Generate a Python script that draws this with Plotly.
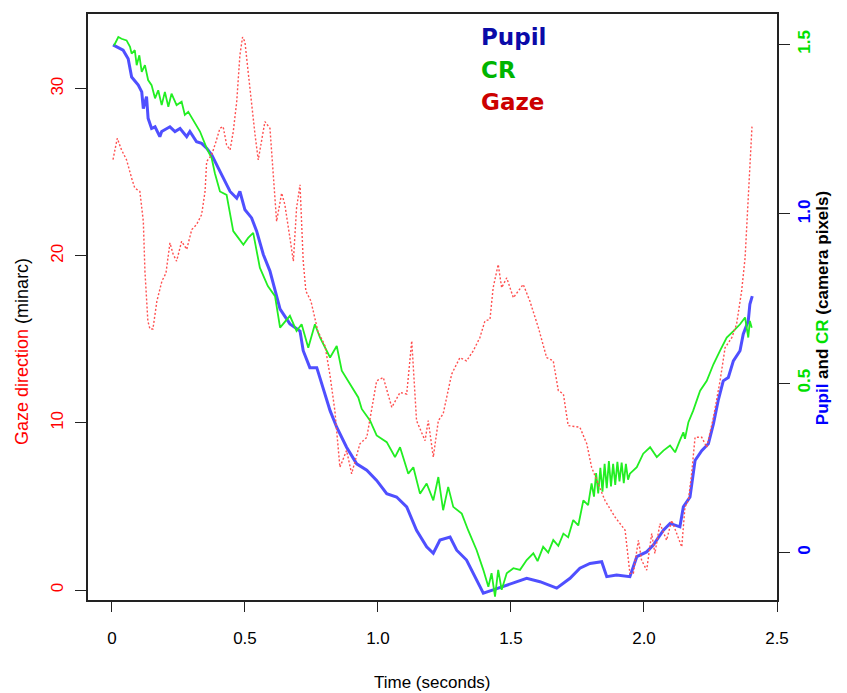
import plotly.graph_objects as go

# ---- data ----
pupil_t = [0.004, 0.011, 0.030, 0.042, 0.061, 0.074, 0.099, 0.112, 0.118, 0.130, 0.136, 0.149, 0.162,
           0.180, 0.187, 0.218, 0.237, 0.256, 0.281, 0.293, 0.318, 0.337, 0.356, 0.375, 0.400, 0.418,
           0.444, 0.469, 0.481, 0.500, 0.525, 0.544, 0.569, 0.594, 0.632, 0.669, 0.707, 0.719, 0.744,
           0.770, 0.794, 0.820, 0.845, 0.882, 0.920, 0.958, 0.995, 1.033, 1.070, 1.108, 1.145, 1.183,
           1.208, 1.233, 1.271, 1.296, 1.333, 1.371, 1.396, 1.433, 1.484, 1.521, 1.559, 1.609, 1.672,
           1.722, 1.759, 1.797, 1.841, 1.860, 1.897, 1.947, 1.973, 2.010, 2.035, 2.073, 2.098, 2.135,
           2.148, 2.173, 2.192, 2.217, 2.242, 2.261, 2.279, 2.298, 2.317, 2.336, 2.361, 2.373, 2.392,
           2.398, 2.407]
pupil_v = [1.499, 1.496, 1.487, 1.483, 1.458, 1.404, 1.380, 1.360, 1.311, 1.346, 1.282, 1.252, 1.257,
           1.228, 1.243, 1.257, 1.243, 1.252, 1.228, 1.243, 1.213, 1.208, 1.194, 1.174, 1.135, 1.105,
           1.066, 1.046, 1.066, 1.012, 0.988, 0.949, 0.880, 0.831, 0.719, 0.675, 0.654, 0.596, 0.546,
           0.546, 0.488, 0.419, 0.370, 0.311, 0.262, 0.243, 0.213, 0.174, 0.164, 0.135, 0.066, 0.017,
           -0.002, 0.037, 0.046, 0.007, -0.022, -0.081, -0.120, -0.110, -0.096, -0.086, -0.076, -0.086, -0.105,
           -0.076, -0.046, -0.032, -0.027, -0.071, -0.066, -0.071, -0.012, 0.002, 0.022, 0.066, 0.086, 0.076,
           0.135, 0.164, 0.272, 0.301, 0.321, 0.380, 0.449, 0.507, 0.517, 0.566, 0.596, 0.645, 0.684,
           0.733, 0.757]

cr_t = [0.008, 0.024, 0.036, 0.055, 0.068, 0.074, 0.086, 0.093, 0.103, 0.112, 0.124, 0.136, 0.149,
        0.162, 0.174, 0.187, 0.199, 0.212, 0.224, 0.243, 0.262, 0.274, 0.287, 0.306, 0.331, 0.356,
        0.375, 0.387, 0.406, 0.431, 0.456, 0.475, 0.494, 0.512, 0.531, 0.556, 0.586, 0.613, 0.632,
        0.669, 0.694, 0.713, 0.738, 0.763, 0.782, 0.820, 0.845, 0.864, 0.895, 0.926, 0.939, 0.970,
        0.995, 1.033, 1.064, 1.083, 1.114, 1.133, 1.158, 1.183, 1.208, 1.227, 1.245, 1.264, 1.283,
        1.315, 1.339, 1.371, 1.396, 1.415, 1.427, 1.440, 1.452, 1.465, 1.484, 1.509, 1.534, 1.559,
        1.584, 1.600, 1.621, 1.640, 1.659, 1.678, 1.697, 1.715, 1.734, 1.753, 1.772, 1.790, 1.803,
        1.812, 1.820, 1.828, 1.836, 1.844, 1.852, 1.860, 1.868, 1.876, 1.884, 1.892, 1.900, 1.908,
        1.916, 1.924, 1.932, 1.940, 1.947, 1.973, 1.997, 2.023, 2.048, 2.073, 2.098, 2.117, 2.135,
        2.148, 2.154, 2.167, 2.185, 2.211, 2.236, 2.261, 2.286, 2.311, 2.336, 2.361, 2.380, 2.392,
        2.398, 2.405]
cr_v = [1.497, 1.522, 1.517, 1.512, 1.493, 1.473, 1.483, 1.439, 1.468, 1.419, 1.439, 1.395, 1.380,
        1.341, 1.365, 1.321, 1.360, 1.316, 1.355, 1.321, 1.331, 1.292, 1.301, 1.277, 1.243, 1.194,
        1.164, 1.120, 1.066, 1.056, 0.949, 0.929, 0.909, 0.929, 0.944, 0.841, 0.787, 0.757, 0.664,
        0.699, 0.654, 0.674, 0.605, 0.674, 0.635, 0.576, 0.610, 0.537, 0.498, 0.458, 0.424, 0.390,
        0.346, 0.326, 0.282, 0.311, 0.233, 0.252, 0.174, 0.204, 0.154, 0.223, 0.125, 0.194, 0.135,
        0.115, 0.066, 0.007, -0.051, -0.101, -0.061, -0.130, -0.051, -0.110, -0.061, -0.046, -0.051, -0.022,
        -0.002, -0.025, 0.017, 0.000, 0.037, 0.020, 0.056, 0.045, 0.096, 0.080, 0.154, 0.140, 0.204,
        0.165, 0.235, 0.175, 0.250, 0.180, 0.262, 0.190, 0.270, 0.195, 0.262, 0.200, 0.268, 0.210,
        0.266, 0.205, 0.262, 0.215, 0.233, 0.252, 0.292, 0.311, 0.282, 0.301, 0.316, 0.296, 0.331,
        0.355, 0.336, 0.385, 0.419, 0.478, 0.507, 0.556, 0.596, 0.635, 0.654, 0.674, 0.694, 0.635,
        0.684, 0.664]

gaze_t = [0.004, 0.020, 0.036, 0.055, 0.074, 0.086, 0.105, 0.118, 0.124, 0.135, 0.143, 0.154, 0.169,
          0.188, 0.203, 0.218, 0.230, 0.243, 0.262, 0.281, 0.300, 0.318, 0.337, 0.350, 0.356, 0.375,
          0.391, 0.406, 0.418, 0.431, 0.444, 0.456, 0.469, 0.481, 0.491, 0.500, 0.512, 0.525, 0.538,
          0.550, 0.563, 0.575, 0.594, 0.606, 0.619, 0.638, 0.650, 0.669, 0.682, 0.694, 0.707, 0.719,
          0.729, 0.748, 0.774, 0.801, 0.820, 0.838, 0.857, 0.882, 0.901, 0.932, 0.958, 0.995, 1.020,
          1.052, 1.083, 1.108, 1.127, 1.145, 1.177, 1.189, 1.208, 1.227, 1.245, 1.277, 1.308, 1.333,
          1.358, 1.383, 1.402, 1.421, 1.433, 1.452, 1.465, 1.484, 1.509, 1.546, 1.571, 1.603, 1.634,
          1.659, 1.678, 1.697, 1.715, 1.759, 1.785, 1.803, 1.822, 1.853, 1.891, 1.929, 1.947, 1.960,
          1.979, 1.991, 2.010, 2.029, 2.041, 2.060, 2.085, 2.104, 2.123, 2.142, 2.154, 2.167, 2.179,
          2.192, 2.217, 2.236, 2.261, 2.286, 2.305, 2.330, 2.348, 2.367, 2.380, 2.391, 2.398, 2.406]
gaze_v = [25.76, 27.03, 26.34, 25.74, 24.65, 24.05, 23.85, 22.06, 19.08, 16.10, 15.62, 15.62, 17.29,
          18.49, 18.96, 20.77, 20.10, 19.68, 20.87, 20.38, 21.57, 21.87, 22.46, 23.85, 25.64, 26.04,
          26.83, 27.63, 27.73, 26.64, 26.34, 27.43, 29.22, 32.00, 33.09, 32.80, 31.01, 29.02, 27.23,
          25.74, 26.83, 28.03, 27.63, 24.65, 22.06, 23.75, 23.06, 21.07, 19.68, 22.86, 24.25, 19.68,
          17.89, 17.29, 15.50, 14.61, 12.82, 10.73, 7.35, 8.35, 6.96, 8.75, 9.14, 12.52, 12.72,
          10.93, 11.82, 11.73, 14.91, 10.14, 8.94, 10.14, 7.95, 10.14, 10.54, 12.92, 13.91, 13.71,
          14.31, 15.10, 16.10, 16.20, 18.09, 19.48, 18.09, 18.68, 17.49, 18.29, 17.29, 15.70, 13.91,
          13.71, 11.93, 11.73, 9.84, 9.74, 8.75, 7.35, 6.56, 5.37, 4.37, 3.58, 1.00, 1.00,
          2.98, 1.79, 1.19, 3.38, 2.19, 3.98, 2.98, 4.17, 3.38, 2.58, 4.97, 5.37, 6.96,
          9.14, 9.14, 8.55, 10.33, 12.52, 14.51, 15.10, 15.90, 17.89, 19.87, 23.26, 25.64, 27.73]

x_ticks = [0, 0.5, 1.0, 1.5, 2.0, 2.5]
x_ticklabels = ["0", "0.5", "1.0", "1.5", "2.0", "2.5"]
gaze_ticks = [0, 10, 20, 30]
cam_ticks = [0, 0.5, 1.0, 1.5]
cam_ticklabels = ["0", "0.5", "1.0", "1.5"]
cam_tickcolors = ["#0000ff", "#00e000", "#0000ff", "#00e000"]

fig = go.Figure()
fig.add_trace(go.Scatter(x=pupil_t, y=pupil_v, mode="lines", yaxis="y",
                         line=dict(color="rgba(30,30,255,0.78)", width=3), name="Pupil"))
fig.add_trace(go.Scatter(x=cr_t, y=cr_v, mode="lines", yaxis="y",
                         line=dict(color="#22ee22", width=1.8), name="CR"))
fig.add_trace(go.Scatter(x=gaze_t, y=gaze_v, mode="lines", yaxis="y2",
                         line=dict(color="#ff5050", width=1.4, dash="2px,2px"), name="Gaze"))

axfont = dict(family="Liberation Sans, Arial, sans-serif", size=17, color="black")

fig.update_layout(
    width=847, height=693,
    margin=dict(l=88, r=70, t=12, b=93),
    paper_bgcolor="white", plot_bgcolor="white",
    showlegend=False,
    xaxis=dict(range=[-0.09, 2.5], tickvals=x_ticks, ticktext=x_ticklabels,
               showgrid=False, zeroline=False, showline=True, mirror=True,
               linecolor="#222", linewidth=1.6, ticks="outside", ticklen=10,
               tickcolor="#222", tickwidth=1.4, tickfont=axfont, ticklabelstandoff=12),
    yaxis=dict(side="right", range=[-0.140, 1.590], tickvals=cam_ticks,
               ticktext=[f"<span style='color:{c}'><b>{t}</b></span>" for t, c in zip(cam_ticklabels, cam_tickcolors)],
               showgrid=False, zeroline=False, showline=True, linecolor="#222", linewidth=1.6,
               ticks="outside", ticklen=11, tickcolor="#222", tickwidth=1.4, tickangle=-90,
               tickfont=dict(family="Liberation Sans, Arial, sans-serif", size=17),
               ticklabelstandoff=0),
    yaxis2=dict(side="left", overlaying="y", range=[-0.596, 34.47], tickvals=gaze_ticks,
                showgrid=False, zeroline=False, showline=True, linecolor="#222", linewidth=1.6,
                ticks="outside", ticklen=11, tickcolor="#222", tickwidth=1.4, tickangle=-90,
                tickfont=dict(family="Liberation Sans, Arial, sans-serif", size=17, color="#ff0000"),
                ticklabelstandoff=5),
    annotations=[
        dict(text="Time (seconds)", xref="paper", yref="paper", x=0.5, y=-0.141,
             xanchor="center", yanchor="middle", showarrow=False, font=axfont),
        dict(text="<span style='color:#ff0000'>Gaze direction</span> (minarc)", xref="paper", yref="paper",
             x=-0.0958, y=0.425, xanchor="center", yanchor="middle", textangle=-90,
             showarrow=False, font=dict(family="Liberation Sans, Arial, sans-serif", size=18, color="black")),
        dict(text="<b><span style='color:#0000ff'>Pupil</span> and <span style='color:#00e000'>CR</span> (camera pixels)</b>",
             xref="paper", yref="paper", x=1.0653, y=0.498, xanchor="center", yanchor="middle",
             textangle=-90, showarrow=False,
             font=dict(family="Liberation Sans, Arial, sans-serif", size=17, color="black")),
        dict(text="<b>Pupil</b>", xref="paper", yref="paper", x=0.567, y=0.961, xanchor="left",
             yanchor="middle", showarrow=False,
             font=dict(family="DejaVu Sans", size=23, color="#0a0aa8")),
        dict(text="<b>CR</b>", xref="paper", yref="paper", x=0.567, y=0.905, xanchor="left",
             yanchor="middle", showarrow=False,
             font=dict(family="DejaVu Sans", size=23, color="#00b400")),
        dict(text="<b>Gaze</b>", xref="paper", yref="paper", x=0.567, y=0.849, xanchor="left",
             yanchor="middle", showarrow=False,
             font=dict(family="DejaVu Sans", size=23, color="#cc0000")),
    ],
)

fig.write_html("out.html")
